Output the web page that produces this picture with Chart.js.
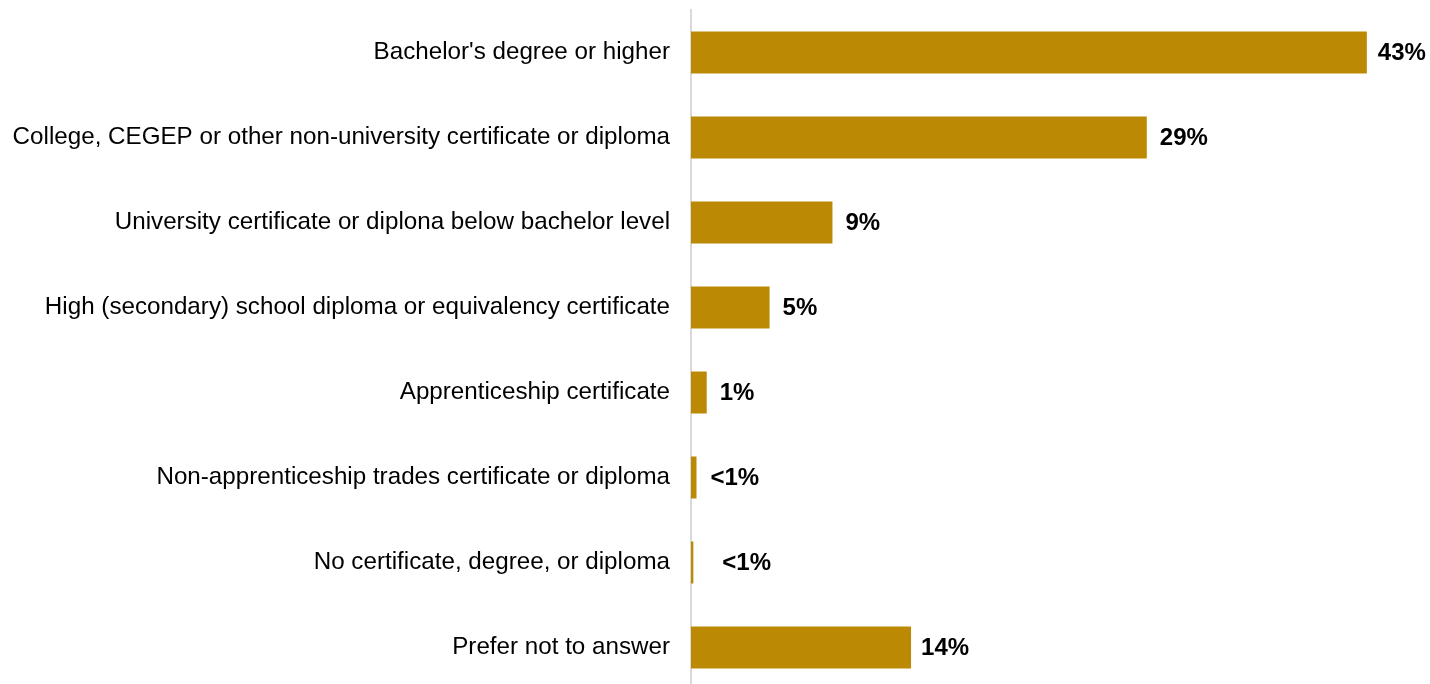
<!DOCTYPE html>
<html>
<head>
<meta charset="utf-8">
<title>Highest level of education</title>
<script src="https://cdn.jsdelivr.net/npm/chart.js"></script>
<style>
  html, body { margin: 0; padding: 0; background: #fff; overflow: hidden; }
  canvas { display: block; }
</style>
</head>
<body>
<canvas id="barChart" width="1430" height="690"></canvas>
<script>
var categories = [
  "Bachelor's degree or higher",
  "College, CEGEP or other non-university certificate or diploma",
  "University certificate or diplona below bachelor level",
  "High (secondary) school diploma or equivalency certificate",
  "Apprenticeship certificate",
  "Non-apprenticeship trades certificate or diploma",
  "No certificate, degree, or diploma",
  "Prefer not to answer"
];
var percentages = [43, 29, 9, 5, 1, 0.35, 0.15, 14];
var valueLabels = ["43%", "29%", "9%", "5%", "1%", "<1%", "<1%", "14%"];
var labelGap = [11, 13, 13, 13, 13, 14, 29, 10];

// draws the bold percentage after each bar
var barValues = {
  id: 'barValues',
  afterDatasetsDraw: function(chart) {
    var ctx = chart.ctx;
    var meta = chart.getDatasetMeta(0);
    ctx.save();
    ctx.font = 'bold 24px "Liberation Sans", Arial, sans-serif';
    ctx.fillStyle = '#000';
    ctx.textAlign = 'left';
    ctx.textBaseline = 'middle';
    meta.data.forEach(function(bar, i) {
      ctx.fillText(valueLabels[i], bar.x + labelGap[i], bar.y + 1);
    });
    ctx.restore();
  }
};

var ctxB = document.getElementById('barChart').getContext('2d');
var myBarChart = new Chart(ctxB, {
  type: 'bar',
  data: {
    labels: categories,
    datasets: [{
      data: percentages,
      backgroundColor: '#bb8903',
      borderWidth: 0,
      barPercentage: 1,
      categoryPercentage: 0.494
    }]
  },
  options: {
    indexAxis: 'y',
    responsive: false,
    animation: false,
    devicePixelRatio: 1,
    layout: { padding: { top: 10, bottom: 0, right: 16, left: 0 } },
    plugins: {
      legend: { display: false },
      tooltip: { enabled: false }
    },
    scales: {
      x: {
        display: false,
        min: 0,
        max: 46
      },
      y: {
        afterFit: function(axis) {
          axis.width = 691;
          axis.paddingTop = 0;
          axis.paddingBottom = 0;
        },
        grid: { display: false, drawTicks: false },
        border: { display: true, color: '#d9d9d9', width: 2 },
        ticks: {
          color: '#000',
          padding: 21,
          font: { family: '"Liberation Sans", Arial, sans-serif', size: 24.2 }
        }
      }
    }
  },
  plugins: [barValues]
});
</script>
</body>
</html>
